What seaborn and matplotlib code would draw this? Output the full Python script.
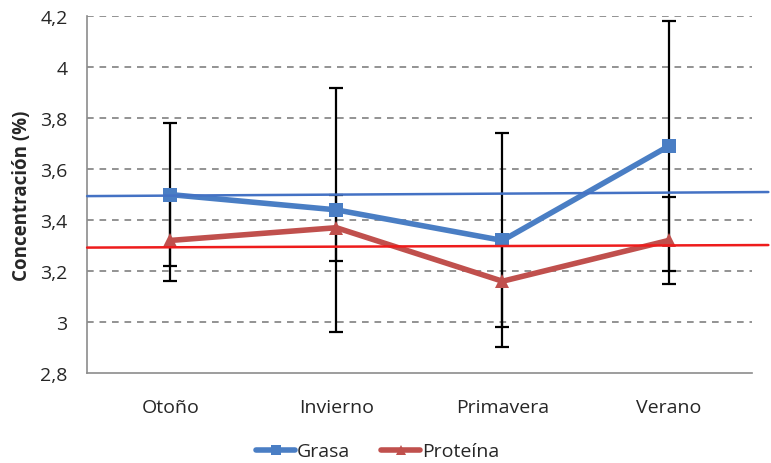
import pandas as pd
import numpy as np
import matplotlib
matplotlib.use('Agg')
import matplotlib.pyplot as plt
import seaborn as sns

sns.set_style('white')
plt.rcParams['font.family'] = ['Open Sans', 'DejaVu Sans']

estaciones = ['Otoño', 'Invierno', 'Primavera', 'Verano']
grasa = [3.50, 3.44, 3.32, 3.69]
grasa_err = [0.28, 0.48, 0.42, 0.49]
proteina = [3.32, 3.37, 3.16, 3.32]
proteina_err = [0.16, 0.13, 0.18, 0.17]
# reference (mean) lines, slightly tilted as in the original
grasa_ref = [3.494, 3.51]
proteina_ref = [3.292, 3.302]
yticks = [2.8, 3.0, 3.2, 3.4, 3.6, 3.8, 4.0, 4.2]
ytick_labels = ['2,8', '3', '3,2', '3,4', '3,6', '3,8', '4', '4,2']

df = pd.DataFrame({
    'estacion': estaciones * 2,
    'x': list(range(len(estaciones))) * 2,
    'valor': grasa + proteina,
    'err': grasa_err + proteina_err,
    'serie': ['Grasa'] * 4 + ['Proteína'] * 4,
})

fig = plt.figure(figsize=(7.71, 4.64), dpi=100)
ax = fig.add_axes([0.113, 0.194, 0.862, 0.769])

colores = {'Grasa': '#4A7EC4', 'Proteína': '#C0504D'}
sns.lineplot(data=df, x='x', y='valor', hue='serie', style='serie',
             markers={'Grasa': 's', 'Proteína': '^'}, dashes=False,
             palette=colores, linewidth=4, markersize=10, markeredgewidth=0,
             ax=ax, zorder=5)

# error bars (under the lines and markers)
for serie in ['Grasa', 'Proteína']:
    d = df[df.serie == serie]
    ax.errorbar(d.x, d.valor, yerr=d.err, fmt='none', ecolor='black',
                elinewidth=1.6, capsize=5, capthick=1.6, zorder=4)

# mean reference lines running past the right edge
ax.plot([-0.5, 3.6], grasa_ref, color='#4472C4', linewidth=1.8, clip_on=False, zorder=6)
ax.plot([-0.5, 3.6], proteina_ref, color='#EE1C1C', linewidth=1.8, clip_on=False, zorder=6)

ax.set_xlim(-0.5, 3.5)
ax.set_ylim(2.8, 4.2)
ax.set_xticks(range(len(estaciones)))
ax.set_xticklabels(estaciones, fontsize=14)
ax.set_yticks(yticks)
ax.set_yticklabels(ytick_labels, fontsize=14)
ax.tick_params(axis='x', length=0, pad=18)
ax.tick_params(axis='y', length=0, pad=14)
ax.set_xlabel('')
ax.set_ylabel('Concentración (%)', fontsize=13.5, fontweight='bold', labelpad=6)

for y in yticks[1:]:
    ax.axhline(y, color='#808080', linestyle=(0, (4, 3.5)), linewidth=1.2, zorder=1)

for s in ['top', 'right']:
    ax.spines[s].set_visible(False)
for s in ['left', 'bottom']:
    ax.spines[s].set_color('#8C8C8C')
    ax.spines[s].set_linewidth(1.2)

handles, labels = ax.get_legend_handles_labels()
for h in handles:
    h.set_markersize(7)
ax.get_legend().remove()
fig.legend(handles, labels, loc='center', bbox_to_anchor=(0.49, 0.025),
           ncol=2, frameon=False, fontsize=14, handlelength=2.0,
           columnspacing=1.6, handletextpad=0.1)

fig.savefig('out.png', dpi=100)
